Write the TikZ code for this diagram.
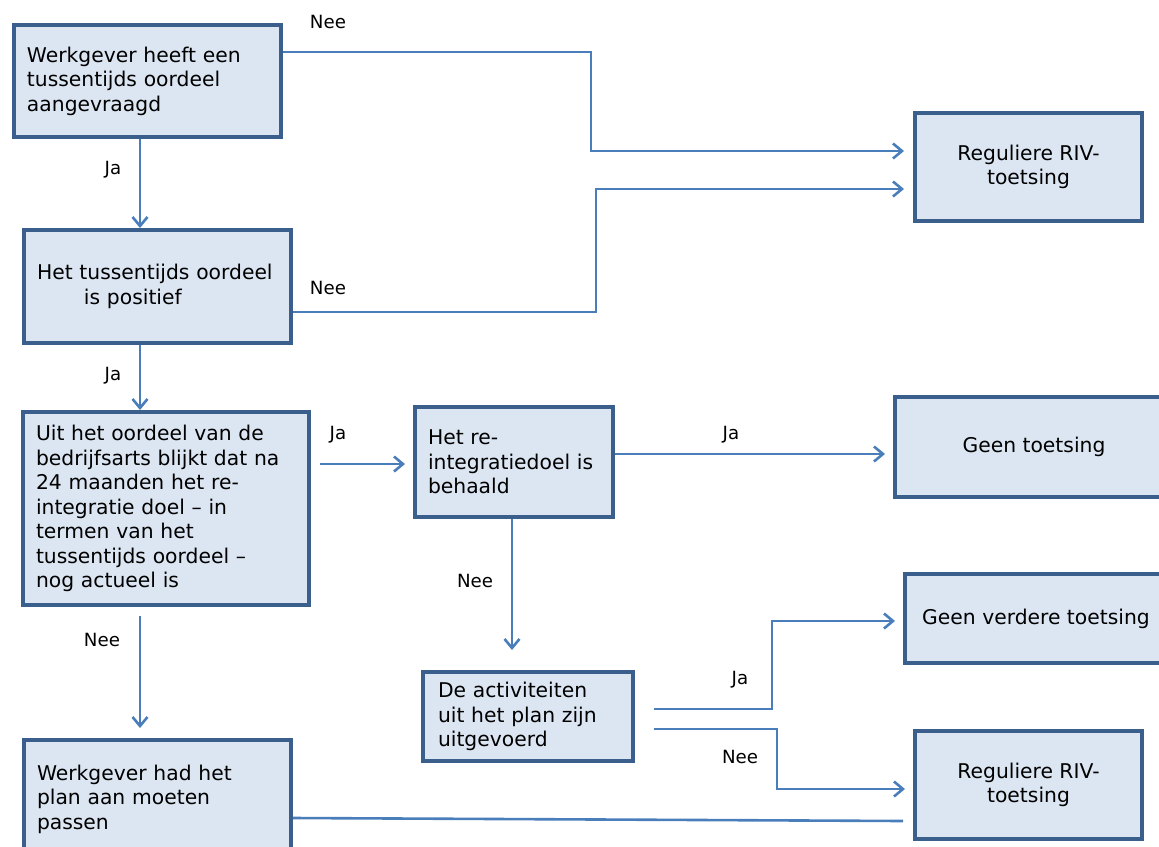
\documentclass[tikz,border=0pt]{standalone}
\usepackage{fontspec}
\setmainfont{DejaVu Sans}
\usetikzlibrary{arrows.meta}
\definecolor{boxfill}{HTML}{DCE6F2}
\definecolor{boxline}{HTML}{3A5F8C}
\definecolor{arrline}{HTML}{4A7EBB}
\tikzset{
  box/.style={rectangle, draw=boxline, fill=boxfill, line width=4pt, anchor=north west,
    inner ysep=0pt, font=\fontsize{20.3}{24.5}\selectfont, text=black},
  lbox/.style={box, align=left},
  cbox/.style={box, align=center},
  arr/.style={draw=arrline, line width=2.6pt, -{Straight Barb[length=9pt,width=15pt]}},
  plain/.style={draw=arrline, line width=2.6pt},
  lbl/.style={inner sep=0pt, font=\fontsize{18.2}{22}\selectfont}
}
\begin{document}
\begin{tikzpicture}[x=1pt,y=-1pt]
\useasboundingbox (0,0) rectangle (1159,846);
% boxes
\node[lbox, minimum width=267pt, minimum height=112pt, text width=241pt, inner xsep=13pt] (b1) at (12,23)
  {Werkgever heeft een\\tussentijds oordeel\\aangevraagd};
\node[lbox, minimum width=267pt, minimum height=113pt, text width=241pt, inner xsep=13pt] (b2) at (22,228)
  {Het tussentijds oordeel\\\hspace*{47pt}is positief};
\node[lbox, minimum width=286pt, minimum height=193pt, text width=260pt, inner xsep=13pt] (b3) at (21,410)
  {Uit het oordeel van de\\bedrijfsarts blijkt dat na\\24 maanden het re-\\integratie doel – in\\termen van het\\tussentijds oordeel –\\nog actueel is};
\node[lbox, minimum width=267pt, minimum height=118pt, text width=241pt, inner xsep=13pt] (b4) at (22,738)
  {Werkgever had het\\plan aan moeten\\passen};
\node[lbox, minimum width=198pt, minimum height=110pt, text width=172pt, inner xsep=13pt] (b5) at (413,405)
  {Het re-\\integratiedoel is\\behaald};
\node[lbox, minimum width=210pt, minimum height=89pt, text width=180pt, inner xsep=15pt] (b10) at (421,670)
  {De activiteiten\\uit het plan zijn\\uitgevoerd};
\node[cbox, minimum width=227pt, minimum height=108pt] (b9) at (913,111)
  {Reguliere RIV-\\toetsing};
\node[cbox, minimum width=278pt, minimum height=100pt] (b6) at (893,395)
  {Geen toetsing};
\node[cbox, minimum width=262pt, minimum height=89pt] (b7) at (903,572)
  {Geen verdere toetsing};
\node[cbox, minimum width=227pt, minimum height=108pt] (b8) at (913,729)
  {Reguliere RIV-\\toetsing};
\coordinate (e4) at (903,821);
% connectors
\draw[arr, shorten >=9pt] (b1.east |- 0,52) -| (591,151) -- (b9.west |- 0,151);
\draw[arr] (b1.south -| 140,0) -- (b2.north -| 140,0);
\draw[arr, shorten >=9pt] (b2.east |- 0,312) -| (596,189) -- (b9.west |- 0,189);
\draw[arr] (b2.south -| 140,0) -- (b3.north -| 140,0);
\draw[arr, shorten <=9pt, shorten >=8pt] (b3.east |- 0,464) -- (b5.west |- 0,464);
\draw[arr, shorten >=8pt] (b5.east |- 0,454) -- (b6.west |- 0,454);
\draw[arr, shorten >=20pt] (b5.south -| 512,0) -- (b10.north -| 512,0);
\draw[arr, shorten <=9pt, shorten >=10pt] (b3.south -| 140,0) -- (b4.north -| 140,0);
\draw[arr, shorten <=19pt, shorten >=8pt] (b10.east |- 0,709) -| (772,621) -- (b7.west |- 0,621);
\draw[arr, shorten <=19pt, shorten >=8pt] (b10.east |- 0,729) -| (777,789) -- (b8.west |- 0,789);
\draw[plain] (b4.east |- 0,818) -- (e4);
% labels
\node[lbl] (l1) at (328,22) {Nee};
\node[lbl] (l2) at (113,170) {Ja};
\node[lbl] (l3) at (328,288) {Nee};
\node[lbl] (l4) at (113,376) {Ja};
\node[lbl] (l5) at (338,435) {Ja};
\node[lbl] (l6) at (731,435) {Ja};
\node[lbl] (l7) at (475,581) {Nee};
\node[lbl] (l8) at (102,640) {Nee};
\node[lbl] (l9) at (740,680) {Ja};
\node[lbl] (l10) at (740,757) {Nee};
\end{tikzpicture}
\end{document}
